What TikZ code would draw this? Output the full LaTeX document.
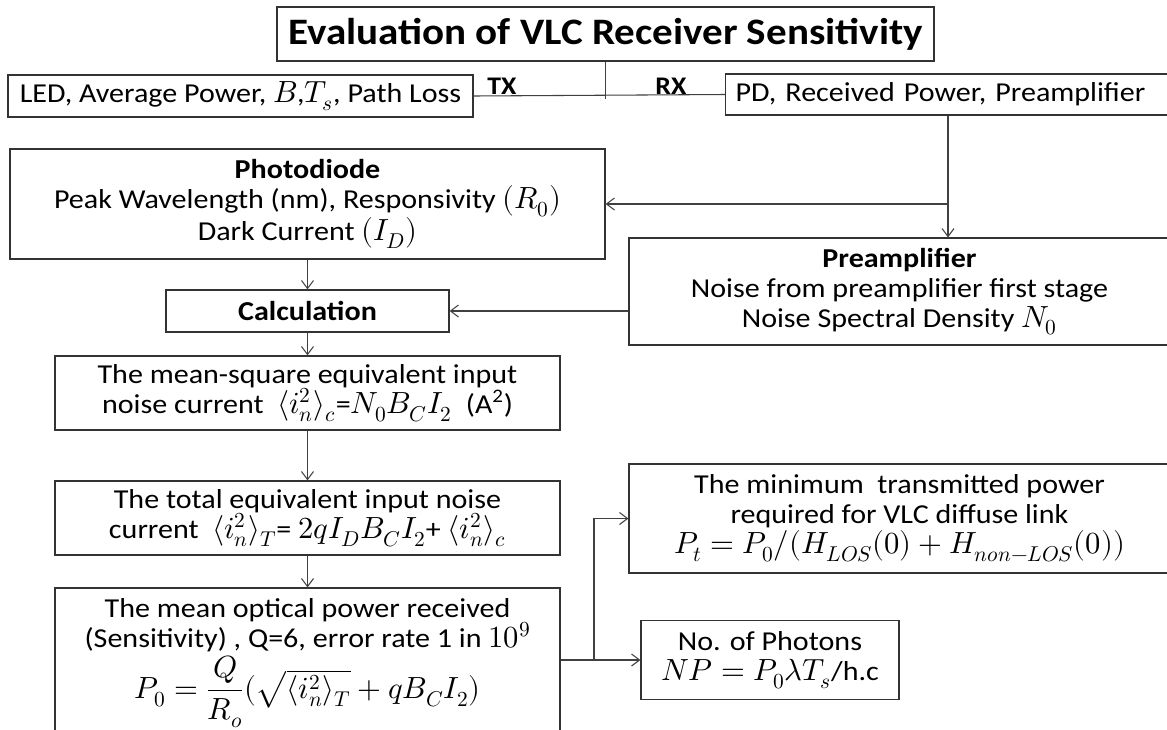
\documentclass[tikz,border=0pt]{standalone}
\usepackage{amsmath}
\usepackage{fontspec}
\usepackage{unicode-math}
\setmainfont{Carlito}[FakeStretch=1.1]
\setmathfont{Latin Modern Math}[Scale=1.12]
\usetikzlibrary{arrows.meta}

\tikzset{
  box/.style={draw=black!80, line width=0.9pt, inner sep=0pt, align=center, font=\fontsize{20.5}{22.5}\selectfont},
  tag/.style={inner sep=0pt, font=\fontsize{19}{20}\selectfont\bfseries},
  arr/.style={draw=black!75, line width=0.8pt, -{Straight Barb[length=6pt,width=9pt]}},
  wire/.style={draw=black!75, line width=0.8pt}
}

\begin{document}
\begin{tikzpicture}[x=0.75pt,y=0.75pt,yscale=-1,xscale=1]
\clip (0,0) rectangle (1167,729);
\fill[white] (0,0) rectangle (1167,729);

% Title
\node[box, minimum width=492.75pt, minimum height=40.5pt, font=\fontsize{28}{30}\selectfont\bfseries] (title) at (605.5,34) {Evaluation of VLC Receiver Sensitivity};

% TX / RX split
\node[box, minimum width=348.75pt, minimum height=31.5pt] (led) at (240.5,96) {LED, Average Power, $B$,$T_s$, Path Loss};
\node[box, minimum height=30.75pt, text width=333pt, align=left, inner xsep=7.5pt, anchor=west] (pd) at (725,94.5) {PD, Received Power, Preamplifier};
\draw[wire] (led.east) -- (pd.west);
\coordinate (split) at (605.5,99);
\draw[wire] (title.south) -- (split);
\node[tag] (tx) at (502,86) {TX};
\node[tag] (rx) at (671,86) {RX};

% Photodiode and preamplifier
\node[box, minimum width=446.25pt, minimum height=82.5pt] (photodiode) at (307.5,204) {\textbf{Photodiode}\\ Peak Wavelength (nm), Responsivity $(R_0)$\\ Dark Current $(I_D)$};
\node[box, minimum width=405.75pt, minimum height=80.25pt] (preamp) at (899.5,291.5) {\textbf{Preamplifier}\\ Noise from preamplifier first stage\\ Noise Spectral Density $N_0$};
\coordinate (drop) at (948,204);
\draw[arr] (drop |- pd.south) -- (drop |- preamp.north);
\draw[arr] (drop) -- (photodiode.east);

% Calculation chain
\node[box, minimum width=212.25pt, minimum height=31.5pt] (calc) at (307.5,311) {\textbf{Calculation}};
\draw[arr] (photodiode.south) -- (calc.north);
\draw[arr] (calc.east -| preamp.west) -- (calc.east);

\node[box, minimum width=378.75pt, minimum height=55.5pt] (meansq) at (307.5,393) {The mean-square equivalent input\\ noise current\ \ $\langle i_n^2\rangle_c$=$N_0B_CI_2$\ \ (A\textsuperscript{2})};
\draw[arr] (calc.south) -- (meansq.north);

\node[box, minimum width=378.75pt, minimum height=55.5pt] (total) at (307.5,518) {The total equivalent input noise\\ current\ \ $\langle i_n^2\rangle_T$= $2qI_DB_CI_2$+ $\langle i_n^2\rangle_c$};
\draw[arr] (meansq.south) -- (total.north);

\node[box, minimum width=378.75pt, minimum height=112.5pt] (optical) at (307.5,663) {The mean optical power received\\ (Sensitivity) , Q=6, error rate 1 in $10^9$\\[2pt] $P_0=\dfrac{Q}{R_o}(\sqrt{\langle i_n^2\rangle_T}+qB_CI_2)$};
\draw[arr] (total.south) -- (optical.north);

% Outputs
\node[box, minimum width=405.75pt, minimum height=81.75pt] (minimum) at (899.5,518.5) {The minimum\ \ transmitted power\\ required for VLC diffuse link\\ $P_t=P_0/(H_{LOS}(0)+H_{non-LOS}(0))$};
\node[box, minimum width=193.5pt, minimum height=59.25pt] (photons) at (770,660) {No. of Photons\\ $NP=P_0\lambda T_s$/h.c};
\coordinate (fork) at (594,660);
\draw[arr] (fork -| optical.east) -- (photons.west);
\draw[arr] (fork) |- (minimum.west);

\end{tikzpicture}
\end{document}
